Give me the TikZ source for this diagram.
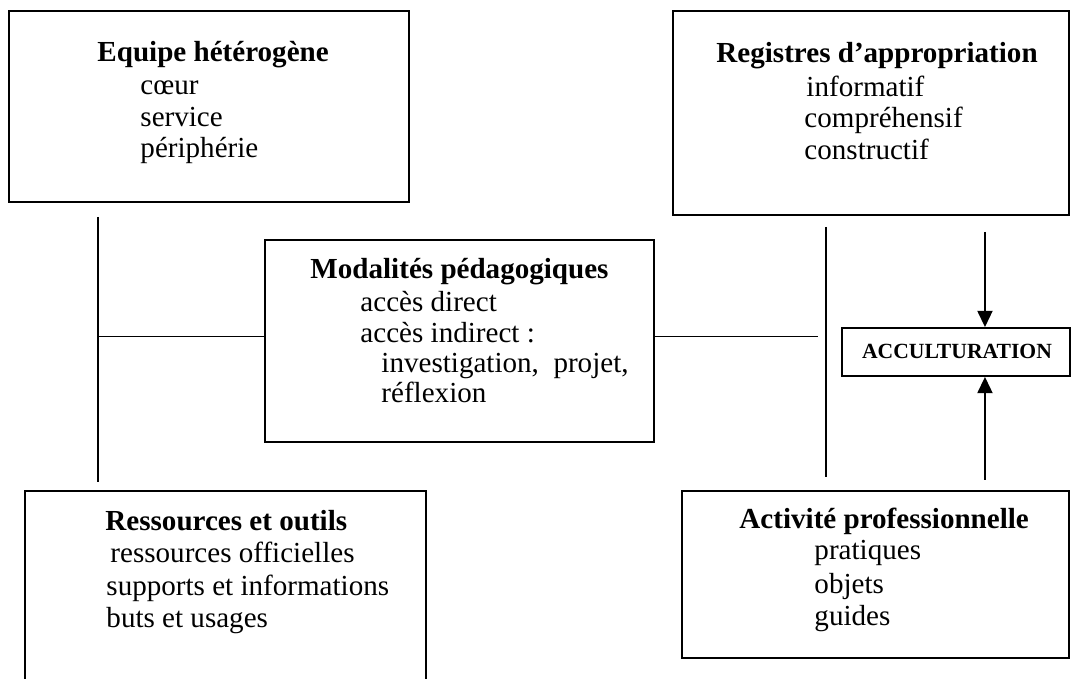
\documentclass[tikz,border=0pt]{standalone}
\usepackage{fontspec}
\setmainfont{Liberation Serif}
\usetikzlibrary{arrows.meta}

\begin{document}
\begin{tikzpicture}[scale=0.1511,
  boite/.style={draw, line width=0.8pt, rectangle},
  titre/.style={anchor=base west, font=\fontsize{12.5}{14}\selectfont\bfseries},
  liste/.style={anchor=base west, font=\fontsize{12.5}{14}\selectfont},
  trait/.style={line width=0.8pt},
  fleche/.style={line width=0.8pt, -{Triangle[length=7pt,width=6.5pt]}}]
\tikzstyle{every node}+=[inner sep=0pt]
\useasboundingbox (0,0) rectangle (107.2,-67.9);
% boites
\node[boite, minimum width=172pt, minimum height=82.13pt] (equipe) at (20.9,-10.65) {};
\node[boite, minimum width=170.28pt, minimum height=87.72pt] (registres) at (87.1,-11.3) {};
\node[boite, minimum width=167.27pt, minimum height=86.86pt] (modalites) at (45.95,-34.1) {};
\node[boite, minimum width=98.04pt, minimum height=20.64pt] (accult) at (95.6,-35.2) {};
\node[boite, minimum width=172.43pt, minimum height=89.87pt] (ressources) at (22.55,-59.55) {};
\node[boite, minimum width=166.41pt, minimum height=71.81pt] (activite) at (87.55,-57.45) {};
% textes
\node[titre] (equipe-t) at (9.7,-6.2) {Equipe hétérogène};
\foreach \n/\y/\t in {1/-9.5/cœur, 2/-12.7/service, 3/-15.8/périphérie}
  \node[liste] (equipe-\n) at (14.0,\y) {\t};
\node[titre] (registres-t) at (71.6,-6.3) {Registres d’appropriation};
\node[liste] (registres-1) at (80.6,-9.7) {informatif};
\foreach \n/\y/\t in {2/-12.8/compréhensif, 3/-15.9/constructif}
  \node[liste] (registres-\n) at (80.4,\y) {\t};
\node[titre] (modalites-t) at (31.0,-27.8) {Modalités pédagogiques};
\node[liste] (modalites-1) at (36.0,-31.1) {accès direct};
\node[liste] (modalites-2) at (36.0,-34.2) {accès indirect :};
\node[liste] (modalites-3) at (38.1,-37.2) {investigation,~ projet,};
\node[liste] (modalites-4) at (38.1,-40.2) {réflexion};
\node[font=\fontsize{9.3}{11}\selectfont\bfseries, anchor=base] (accult-t) at (95.7,-35.8) {ACCULTURATION};
\node[titre] (ressources-t) at (10.5,-53.0) {Ressources et outils};
\node[liste] (ressources-1) at (11.0,-56.2) {ressources officielles};
\foreach \n/\y/\t in {2/-59.5/supports et informations, 3/-62.7/buts et usages}
  \node[liste] (ressources-\n) at (10.6,\y) {\t};
\node[titre] (activite-t) at (73.9,-52.8) {Activité professionnelle};
\foreach \n/\y/\t in {1/-55.9/pratiques, 2/-59.3/objets, 3/-62.5/guides}
  \node[liste] (activite-\n) at (81.4,\y) {\t};
% liaisons
\coordinate (g-haut) at (9.8,-21.7);
\coordinate (g-bas) at (9.8,-48.2);
\coordinate (g-milieu) at (9.8,-33.65);
\coordinate (d-fin) at (81.8,-33.65);
\coordinate (d-haut) at (82.6,-22.7);
\coordinate (d-bas) at (82.6,-47.7);
\coordinate (f-haut) at (98.5,-23.2);
\coordinate (f-bas) at (98.5,-48.0);
\draw[trait] (g-haut) -- (g-bas);
\draw[trait] (g-milieu) -- (g-milieu -| modalites.west);
\draw[trait] (modalites.east |- d-fin) -- (d-fin);
\draw[trait] (d-haut) -- (d-bas);
\draw[fleche] (f-haut) -- (f-haut |- accult.north);
\draw[fleche] (f-bas) -- (f-bas |- accult.south);
\end{tikzpicture}
\end{document}
